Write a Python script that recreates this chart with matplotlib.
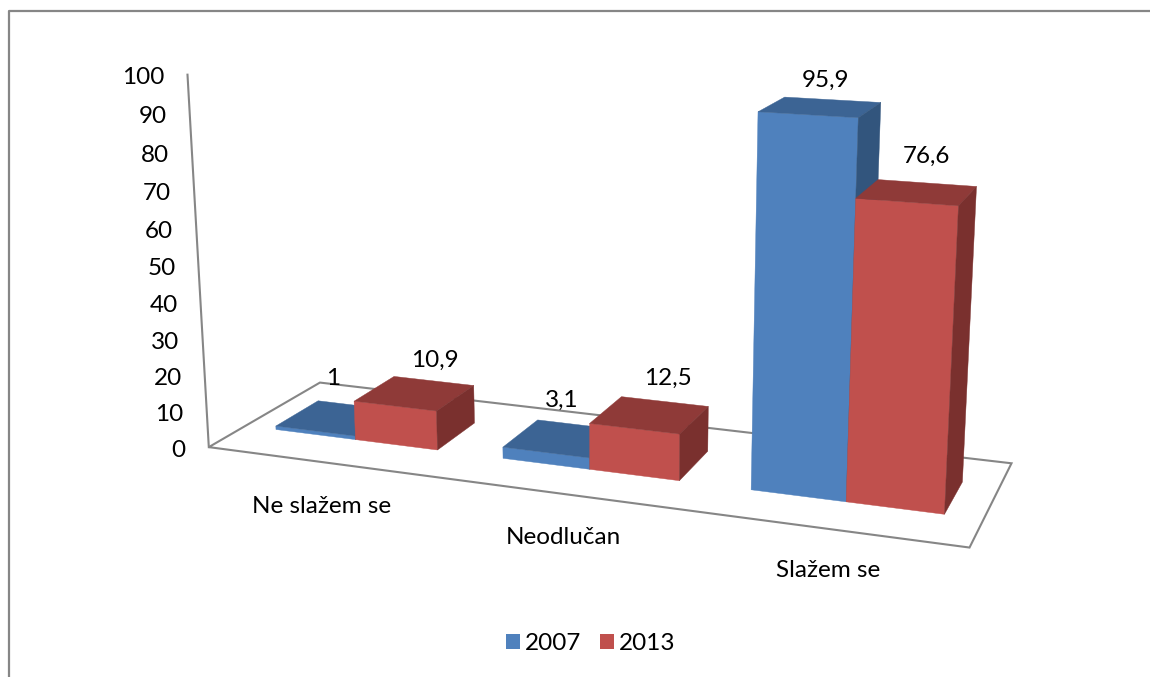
import numpy as np
import matplotlib
matplotlib.use("Agg")
import matplotlib.pyplot as plt
from matplotlib.patches import Polygon, Patch

# ---- chart values ----
categories = ["Ne slažem se", "Neodlučan", "Slažem se"]
series_names = ["2007", "2013"]
values_2007 = [1.0, 3.1, 95.9]
values_2013 = [10.9, 12.5, 76.6]
value_labels_2007 = ["1", "3,1", "95,9"]
value_labels_2013 = ["10,9", "12,5", "76,6"]
y_ticks = [0, 10, 20, 30, 40, 50, 60, 70, 80, 90, 100]

# ---- styles ----
plt.rcParams["font.family"] = ["Lato", "DejaVu Sans"]
FS = 17.5
FACE = {"2007": ("#4F81BD", "#3C6494", "#32557D"),
        "2013": ("#C0504D", "#8F3A38", "#7A302E")}
LINE = "#868686"

# ---- camera: maps (category position, depth 0..1, value) to figure pixels ----
def calibration(a, d1, d2):
    w = (1 - 2 * a) / 2
    x0, x1, x2 = a, a + w, a + 2 * w
    return [
        (0, 0, 0, 209.5, 447), (3, 0, 0, 970, 547), (3, 1, 0, 1011, 462),
        (0, 1, 0, 320, 382), (0, 0, 100, 188, 74),
        (x0, d1, 0, 275, 429), (x0, d2, 1, 318, 401),
        (x1, d1, 0, 355, 439), (x2, d1, 0, 438, 450), (x2, d1, 10.9, 438, 411),
        (x1, d1, 10.9, 354, 402), (x1, d2, 10.9, 394, 377), (x2, d2, 10.9, 474, 386),
        (x2, d2, 0, 475, 423),
        (1 + x0, d1, 0, 502, 458), (1 + x0, d1, 3.1, 502, 447), (1 + x0, d2, 3.1, 537, 420),
        (1 + x1, d1, 0, 589, 469), (1 + x2, d1, 0, 680, 481), (1 + x2, d1, 12.5, 680, 434),
        (1 + x1, d1, 12.5, 589, 424), (1 + x1, d2, 12.5, 622, 397), (1 + x2, d2, 12.5, 709, 407),
        (1 + x2, d2, 0, 709, 452),
        (2 + x0, d1, 0, 750, 490), (2 + x1, d1, 0, 846, 502), (2 + x0, d1, 95.9, 757, 112),
        (2 + x1, d1, 95.9, 858, 118), (2 + x1, d2, 95.9, 881, 102), (2 + x0, d2, 95.9, 784, 97),
        (2 + x2, d1, 0, 945, 514), (2 + x2, d2, 0, 962, 482), (2 + x2, d1, 76.6, 959, 206),
        (2 + x2, d2, 76.6, 977, 187), (2 + x1, d2, 76.6, 878, 179), (2 + x1, d1, 76.6, 856, 199),
    ]

def fit_camera(pts):
    A = []
    for X, Y, Z, u, v in pts:
        p = [X, Y, Z / 100, 1]
        A.append(p + [0, 0, 0, 0] + [-u / 1000 * c for c in p])
        A.append([0, 0, 0, 0] + p + [-v / 1000 * c for c in p])
    _, _, vt = np.linalg.svd(np.array(A))
    return vt[-1].reshape(3, 4)

def residual(P, pts):
    e = 0
    for X, Y, Z, u, v in pts:
        h = P @ np.array([X, Y, Z / 100, 1])
        e += (h[0] / h[2] * 1000 - u) ** 2 + (h[1] / h[2] * 1000 - v) ** 2
    return e

best = None
for a in np.arange(0.08, 0.22, 0.01):
    for d1 in np.arange(0.15, 0.40, 0.02):
        for d2 in np.arange(0.60, 0.85, 0.02):
            pts = calibration(a, d1, d2)
            P = fit_camera(pts)
            e = residual(P, pts)
            if best is None or e < best[0]:
                best = (e, a, d1, d2, P)
_, GAP, D1, D2, CAM = best
BAR_W = (1 - 2 * GAP) / 2

def proj(x, y, z):
    h = CAM @ np.array([x, y, z / 100, 1])
    return h[0] / h[2] * 1000, h[1] / h[2] * 1000

# ---- figure ----
fig = plt.figure(figsize=(11.5, 6.77), dpi=100)
ax = fig.add_axes([0, 0, 1, 1])
ax.set_xlim(0, 1150)
ax.set_ylim(677, 0)
ax.axis("off")

# chart frame
ax.plot([8.5, 8.5, 1150], [677, 11, 11], color=LINE, lw=1.6, zorder=1)

# floor and value axis
floor = [proj(0, 0, 0), proj(3, 0, 0), proj(3, 1, 0), proj(0, 1, 0)]
ax.add_patch(Polygon(floor, closed=True, fc="none", ec=LINE, lw=1.5, zorder=2))
bx, by = zip(proj(0, 0, 0), proj(0, 0, y_ticks[-1]))
ax.plot(bx, by, color=LINE, lw=1.5, zorder=2)

for t in y_ticks:
    px, py = proj(0, 0, t)
    ax.text(px - 23, py + 3, str(t), ha="right", va="center", fontsize=FS, color="black")

# bars
def bar(x0, x1, v, name, z):
    front, top, side = FACE[name]
    faces = [
        ([(x0, D1, 0), (x1, D1, 0), (x1, D1, v), (x0, D1, v)], front),
        ([(x0, D1, v), (x1, D1, v), (x1, D2, v), (x0, D2, v)], top),
        ([(x1, D1, 0), (x1, D2, 0), (x1, D2, v), (x1, D1, v)], side),
    ]
    for pts, c in faces:
        ax.add_patch(Polygon([proj(*p) for p in pts], closed=True, fc=c, ec=c, lw=0.3, zorder=z))

for i in range(len(categories)):
    bar(i + GAP, i + GAP + BAR_W, values_2007[i], "2007", 3 + i)
    bar(i + GAP + BAR_W, i + GAP + 2 * BAR_W, values_2013[i], "2013", 3.5 + i)

# value labels (placement relative to the back of each bar top)
off_2007 = [(-23, -27), (-17, -25), (-7, -19)]
off_2013 = [(1, -21), (3, -23), (0, -27)]
for i in range(len(categories)):
    px, py = proj(i + GAP + BAR_W / 2, D2, values_2007[i])
    ax.text(px + off_2007[i][0], py + off_2007[i][1], value_labels_2007[i], ha="center", va="center",
            fontsize=FS, color="black", zorder=10)
    px, py = proj(i + GAP + 1.5 * BAR_W, D2, values_2013[i])
    ax.text(px + off_2013[i][0], py + off_2013[i][1], value_labels_2013[i], ha="center", va="center",
            fontsize=FS, color="black", zorder=10)

# category labels
cat_dy = [45, 44, 42]
for i, c in enumerate(categories):
    px, py = proj(i + 0.5, 0, 0)
    ax.text(px + 0.5, py + cat_dy[i], c, ha="center", va="center", fontsize=FS, color="black", zorder=10)

# legend
handles = [Patch(fc=FACE[n][0], ec="none", label=n) for n in series_names]
ax.legend(handles=handles, loc="center", bbox_to_anchor=(590.5 / 1150, 1 - 644 / 677), ncol=2,
          frameon=False, fontsize=FS, handlelength=0.58, handleheight=0.58, handletextpad=0.2,
          columnspacing=0.78, borderpad=0)

fig.savefig("out.png", dpi=100)
